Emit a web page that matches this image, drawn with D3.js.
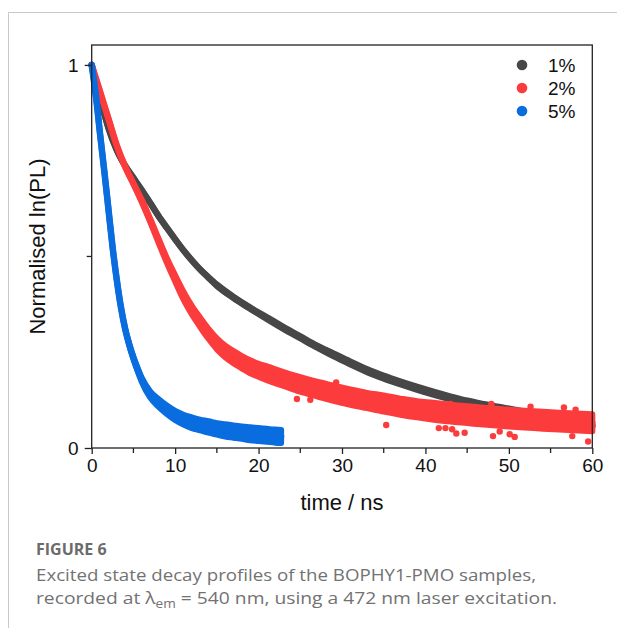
<!DOCTYPE html>
<html>
<head>
<meta charset="utf-8">
<script src="https://cdn.jsdelivr.net/npm/d3@7"></script>
<style>
  body { margin: 0; background: #fff; }
  svg { display: block; }
</style>
</head>
<body>
<div id="chart"></div>
<script>
// values (time in ns, normalised PL)
const seriesNames = ['1%', '2%', '5%'];
const seriesColors = ['#474747', '#fc3c3c', '#0a6ddf'];

const t1 = [0, 0.5, 1, 1.7, 2, 3, 4, 5, 6, 7, 8, 9, 10, 11, 12, 13, 14, 15, 17, 19, 21, 23, 25, 27, 29, 31, 33, 35, 37, 39, 41, 43, 45, 47, 50, 53, 56, 60];
const v1 = [1, 0.95, 0.91, 0.858, 0.836, 0.778, 0.737, 0.705, 0.673, 0.64, 0.606, 0.575, 0.545, 0.516, 0.49, 0.466, 0.445, 0.425, 0.393, 0.365, 0.339, 0.313, 0.289, 0.265, 0.243, 0.222, 0.202, 0.185, 0.17, 0.156, 0.143, 0.131, 0.12, 0.111, 0.099, 0.087, 0.075, 0.058];
const s1 = [0, 0, 0, 0, 0, 0, 0, 0, 0, 0, 0, 0, 0, 0, 0, 0, 0.001, 0.002, 0.002, 0.002, 0.003, 0.003, 0.003, 0.003, 0.004, 0.004, 0.004, 0.004, 0.004, 0.004, 0.004, 0.004, 0.004, 0.004, 0.004, 0.004, 0.004, 0.004];

const t2 = [0, 0.5, 1, 2, 3, 4, 5, 6, 7, 8, 9, 10, 11, 12, 13, 14, 15, 16, 17, 18, 19, 20, 21, 23, 25, 27, 29, 31, 33, 35, 37, 39, 41, 43, 45, 47, 50, 53, 56, 60];
const v2 = [1, 0.965, 0.93, 0.86, 0.79, 0.735, 0.69, 0.645, 0.595, 0.542, 0.49, 0.443, 0.398, 0.36, 0.328, 0.298, 0.272, 0.252, 0.237, 0.224, 0.212, 0.203, 0.195, 0.18, 0.166, 0.154, 0.143, 0.133, 0.124, 0.116, 0.108, 0.101, 0.096, 0.091, 0.087, 0.083, 0.078, 0.074, 0.07, 0.066];
const s2 = [0, 0, 0, 0, 0, 0, 0, 0.003, 0.004, 0.005, 0.006, 0.008, 0.01, 0.011, 0.012, 0.013, 0.014, 0.015, 0.016, 0.016, 0.017, 0.017, 0.018, 0.018, 0.019, 0.019, 0.02, 0.02, 0.02, 0.021, 0.021, 0.021, 0.022, 0.022, 0.022, 0.022, 0.022, 0.022, 0.022, 0.022];

const t3 = [0, 0.5, 1, 1.5, 2, 2.5, 3, 3.5, 4, 4.5, 5, 5.5, 6, 7, 8, 9, 10, 11, 12, 13, 14, 15, 16, 17, 18, 19, 20, 21, 22, 22.7];
const v3 = [1, 0.92, 0.82, 0.725, 0.625, 0.525, 0.44, 0.368, 0.312, 0.27, 0.235, 0.205, 0.178, 0.14, 0.118, 0.1, 0.085, 0.074, 0.066, 0.06, 0.055, 0.05, 0.046, 0.043, 0.04, 0.037, 0.035, 0.033, 0.031, 0.03];
const s3 = [0, 0, 0, 0, 0, 0, 0, 0, 0, 0.002, 0.003, 0.004, 0.005, 0.008, 0.01, 0.011, 0.012, 0.013, 0.014, 0.014, 0.015, 0.015, 0.016, 0.016, 0.016, 0.017, 0.017, 0.017, 0.017, 0.017];

// stray red points away from the band
const outT2 = [24.6, 26.2, 29.3, 35.3, 41.6, 42.4, 43.2, 43.7, 44.7, 48.1, 48.9, 50.1, 50.7, 57.6, 59.5, 43.0, 47.9, 52.6, 56.6, 58.0];
const outV2 = [0.128, 0.126, 0.171, 0.06, 0.052, 0.052, 0.049, 0.038, 0.04, 0.031, 0.043, 0.036, 0.029, 0.031, 0.017, 0.115, 0.115, 0.108, 0.106, 0.1];

const xTicks = [0, 10, 20, 30, 40, 50, 60];
const xMinor = [5, 15, 25, 35, 45, 55];
const yTicks = [0, 1];
const yMinor = [0.5];

const captionTitle = 'FIGURE 6';
const captionLine1 = 'Excited state decay profiles of the BOPHY1-PMO samples,';

const W = 617, H = 628;
const plot = { left: 91.7, right: 592.3, top: 45, bottom: 448 };
const chartFont = "'Liberation Sans', Arial, sans-serif";

const svg = d3.select('#chart').append('svg')
    .attr('width', W)
    .attr('height', H);

// outer figure frame
svg.append('line').attr('x1', 8.5).attr('x2', W).attr('y1', 12.5).attr('y2', 12.5)
    .attr('stroke', '#c9c9c9').attr('stroke-width', 1);
svg.append('line').attr('x1', 8.5).attr('x2', 8.5).attr('y1', 12.5).attr('y2', H)
    .attr('stroke', '#c9c9c9').attr('stroke-width', 1);

const x = d3.scaleLinear().domain([0, 60]).range([plot.left, plot.right]);
const y = d3.scaleLinear().domain([0, 1.052]).range([plot.bottom, plot.top]);

const series = [
    { t: t1, v: v1, s: s1 },
    { t: t2, v: v2, s: s2 },
    { t: t3, v: v3, s: s3 }
].map((d, i) => ({
    name: seriesNames[i],
    color: seriesColors[i],
    pts: d.t.map((t, j) => ({ t: t, v: d.v[j], s: d.s[j] }))
}));

const line = d3.line().x(d => x(d.t)).y(d => y(d.v)).curve(d3.curveMonotoneX);
const area = d3.area().x(d => x(d.t)).y0(d => y(d.v - d.s)).y1(d => y(d.v + d.s)).curve(d3.curveMonotoneX);

const data = svg.append('g');
series.forEach((sr, i) => {
    const g = data.append('g');
    g.append('path').attr('d', area(sr.pts))
        .attr('fill', sr.color)
        .attr('stroke', sr.color)
        .attr('stroke-width', 6)
        .attr('stroke-linejoin', 'round');
    g.append('path').attr('d', line(sr.pts))
        .attr('fill', 'none')
        .attr('stroke', sr.color)
        .attr('stroke-width', 6.5)
        .attr('stroke-linecap', 'round')
        .attr('stroke-linejoin', 'round');
    if (i === 1) {
        g.selectAll('circle')
            .data(outT2.map((t, j) => ({ t: t, v: outV2[j] })))
            .join('circle')
            .attr('cx', d => x(d.t))
            .attr('cy', d => y(d.v))
            .attr('r', 3.2)
            .attr('fill', sr.color);
    }
});

// axes
const axisColor = '#222';
const xAxis = svg.append('g').attr('transform', `translate(0,${plot.bottom})`)
    .call(d3.axisBottom(x).tickValues(xTicks).tickSize(6).tickSizeOuter(0).tickPadding(5).tickFormat(d3.format('d')));
xAxis.append('g').selectAll('line').data(xMinor).join('line')
    .attr('x1', d => x(d)).attr('x2', d => x(d)).attr('y1', 0).attr('y2', 5)
    .attr('stroke', axisColor);

const yAxis = svg.append('g').attr('transform', `translate(${plot.left},0)`)
    .call(d3.axisLeft(y).tickValues(yTicks).tickSize(7).tickSizeOuter(0).tickPadding(6).tickFormat(d3.format('d')));
yAxis.append('g').selectAll('line').data(yMinor).join('line')
    .attr('x1', -5).attr('x2', 0).attr('y1', d => y(d)).attr('y2', d => y(d))
    .attr('stroke', axisColor);

[xAxis, yAxis].forEach(a => {
    a.attr('font-family', null).attr('font-size', null);
    a.select('.domain').remove();
    a.selectAll('line').attr('stroke', axisColor).attr('stroke-width', 1.3);
    a.selectAll('text')
        .attr('fill', '#111')
        .style('font-family', chartFont)
        .style('font-size', '19px');
});

// plot box
svg.append('rect')
    .attr('x', plot.left).attr('y', plot.top)
    .attr('width', plot.right - plot.left).attr('height', plot.bottom - plot.top)
    .attr('fill', 'none').attr('stroke', axisColor).attr('stroke-width', 1.3);

// axis titles
svg.append('text')
    .attr('x', (plot.left + plot.right) / 2).attr('y', 510)
    .attr('text-anchor', 'middle')
    .style('font-family', chartFont)
    .style('font-size', '22px').attr('fill', '#111')
    .text('time / ns');
svg.append('text')
    .attr('transform', `translate(45,${(plot.top + plot.bottom) / 2}) rotate(-90)`)
    .attr('text-anchor', 'middle')
    .style('font-family', chartFont)
    .style('font-size', '22px').attr('fill', '#111')
    .text('Normalised ln(PL)');

// legend
const legend = svg.append('g').attr('transform', 'translate(522,65)');
series.forEach((sr, i) => {
    legend.append('circle').attr('cx', 0).attr('cy', i * 23).attr('r', 5.3).attr('fill', sr.color);
    legend.append('text').attr('x', 26).attr('y', i * 23).attr('dy', '0.35em')
        .style('font-family', chartFont)
        .style('font-size', '19px').attr('fill', '#111')
        .text(sr.name);
});

// caption
const capFont = "'Open Sans', 'Noto Sans', sans-serif";
svg.append('text').attr('x', 36).attr('y', 555)
    .style('font-family', capFont).style('font-size', '16px').style('font-weight', 'bold')
    .attr('fill', '#6b6b6b').text(captionTitle);
svg.append('text').attr('x', 36).attr('y', 581)
    .attr('textLength', 500).attr('lengthAdjust', 'spacingAndGlyphs')
    .style('font-family', capFont).style('font-size', '17px')
    .attr('fill', '#727272').text(captionLine1);
const cap2 = svg.append('text').attr('x', 36).attr('y', 604)
    .attr('textLength', 521).attr('lengthAdjust', 'spacingAndGlyphs')
    .style('font-family', capFont).style('font-size', '17px')
    .attr('fill', '#727272');
cap2.append('tspan').text('recorded at λ');
cap2.append('tspan').attr('dy', 4).style('font-size', '12px').text('em');
cap2.append('tspan').attr('dy', -4).text(' = 540 nm, using a 472 nm laser excitation.');
</script>
</body>
</html>
